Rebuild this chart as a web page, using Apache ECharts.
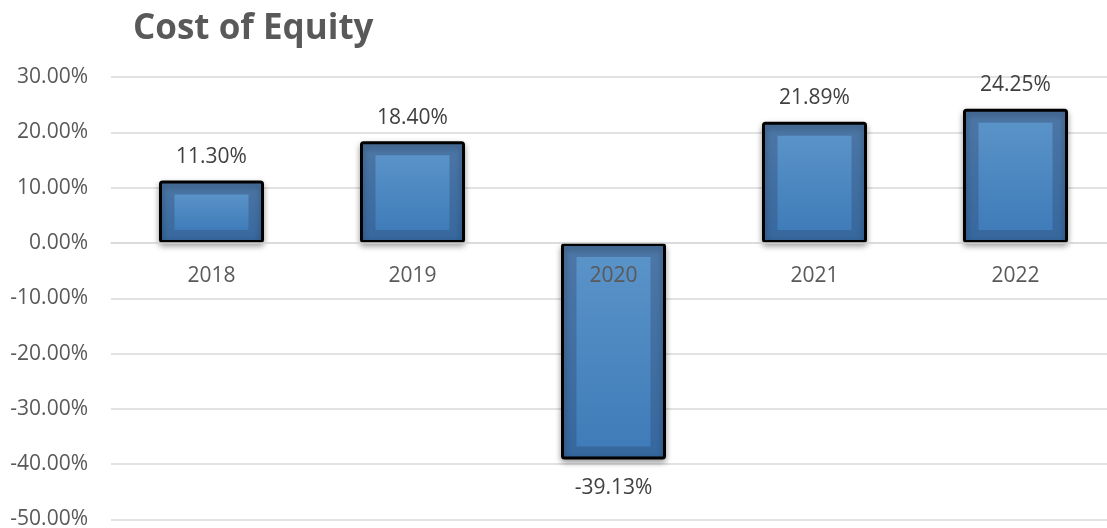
<!DOCTYPE html>
<html>
<head>
<meta charset="utf-8">
<script src="https://cdn.jsdelivr.net/npm/echarts@6/dist/echarts.min.js"></script>
<style>
  html, body { margin: 0; padding: 0; background: #fff; }
  #chart { width: 1107px; height: 528px; }
</style>
</head>
<body>
<div id="chart"></div>
<script>
// data
const years = ['2018', '2019', '2020', '2021', '2022'];
const costOfEquity = [11.30, 18.40, -39.13, 21.89, 24.25];
const yTicks = { min: -50, max: 30, step: 10 };

const gridTop = 77;
const gridBottom = 8.5;
const gridHeight = 528 - gridTop - gridBottom;
// distance from the bottom of the grid up to the 0 line
const zeroOffset = gridHeight * (0 - yTicks.min) / (yTicks.max - yTicks.min);

let myChart = echarts.init(document.getElementById('chart'));

// inner lighter panel of each bar (bevel look)
function renderInner(params, api) {
    let v = api.value(1);
    let zero = api.coord([api.value(0), 0]);
    let end = api.coord([api.value(0), v]);
    let w = 106 - 32;
    let top = Math.min(zero[1], end[1]) + 14;
    let bottom = Math.max(zero[1], end[1]) - 13;
    return {
        type: 'rect',
        shape: { x: zero[0] - w / 2, y: top, width: w, height: Math.max(bottom - top, 0) },
        style: {
            fill: new echarts.graphic.LinearGradient(0, 0, 0, 1, [
                { offset: 0, color: '#5a93c8' },
                { offset: 1, color: '#3f7cb9' }
            ])
        }
    };
}

let option = {
    animation: false,
    title: {
        text: 'Cost of Equity',
        left: 128,
        top: 7,
        textStyle: { fontFamily: 'Open Sans', fontSize: 35, fontWeight: 'bold', color: '#595959' }
    },
    grid: {
        left: 111, right: -9, top: gridTop, bottom: gridBottom,
        containLabel: false,
        outerBoundsMode: 'none'
    },
    xAxis: {
        type: 'category',
        data: years,
        z: 10,
        offset: -zeroOffset,
        axisLine: { onZero: false, lineStyle: { color: '#d9d9d9', width: 1.5 } },
        axisTick: { show: false },
        axisLabel: { color: '#595959', fontSize: 21, fontFamily: 'Open Sans', margin: 23 }
    },
    yAxis: {
        type: 'value',
        min: yTicks.min,
        max: yTicks.max,
        interval: yTicks.step,
        axisLine: { show: false },
        axisTick: { show: false },
        splitLine: { lineStyle: { color: '#d9d9d9', width: 1.5 } },
        axisLabel: {
            color: '#595959', fontSize: 21, fontFamily: 'Open Sans', margin: 23,
            formatter: v => v.toFixed(2) + '%'
        }
    },
    series: [
        {
            type: 'bar',
            barWidth: 105,
            data: costOfEquity.map(v => ({
                value: v,
                label: v < 0 ? { position: 'bottom', distance: 18 } : { position: 'top', distance: 13 }
            })),
            itemStyle: {
                color: new echarts.graphic.LinearGradient(0, 0, 0, 1, [
                    { offset: 0, color: '#4d77a6' },
                    { offset: 1, color: '#36679d' }
                ]),
                borderColor: '#000',
                borderWidth: 3,
                borderRadius: 2,
                shadowBlur: 6,
                shadowOffsetY: 3,
                shadowColor: 'rgba(0,0,0,0.35)'
            },
            label: {
                show: true,
                color: '#404040',
                fontSize: 21,
                fontFamily: 'Open Sans',
                formatter: p => p.value.toFixed(2) + '%'
            }
        },
        {
            type: 'custom',
            renderItem: renderInner,
            data: costOfEquity.map((v, i) => [i, v]),
            z: 3
        }
    ]
};

myChart.setOption(option);
</script>
</body>
</html>
